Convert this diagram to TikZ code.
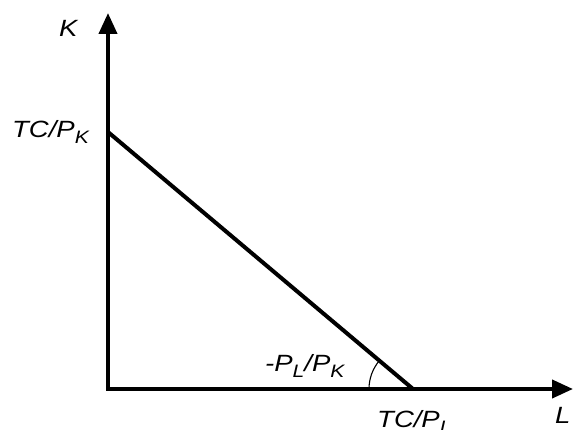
\documentclass[tikz,border=0pt]{standalone}
\usepackage{fontspec}
\setmainfont{Liberation Sans}
\usetikzlibrary{arrows.meta}
\newcommand{\wtxt}[1]{\scalebox{1.17}[1]{#1}}
\newcommand{\subtx}[1]{\raisebox{-6pt}{\fontsize{18}{18}\selectfont #1}}
\begin{document}
\begin{tikzpicture}[x=1pt,y=1pt,
  axis/.style={line width=4pt,-{Triangle[length=21pt,width=18pt]}},
  budget/.style={line width=4pt},
  lab/.style={inner sep=0pt,anchor=base west,font=\fontsize{23.5}{24}\selectfont\itshape}]
\useasboundingbox (0,0) rectangle (573,430);
\coordinate (O) at (108,41);
\coordinate (Ytip) at (108,417);
\coordinate (Xtip) at (573,41);
\coordinate (A) at (108,298);
\coordinate (B) at (413,41);
\draw[axis] ([yshift=-2pt]O) -- (Ytip);
\draw[axis] ([xshift=-2pt]O) -- (Xtip);
\draw[budget] (A) -- (B);
\draw[line width=1.1pt] ([shift={(180:44pt)}]B) arc (180:140:44pt);
\node[lab] (lK) at (59,393) {\wtxt{K}};
\node[lab] (lTCK) at (12,292) {\wtxt{TC/P\subtx{K}}};
\node[lab] (lslope) at (265,58) {\wtxt{-P\subtx{L}/P\subtx{K}}};
\node[lab] (lTCL) at (377,2) {\wtxt{TC/P\subtx{L}}};
\node[lab] (lL) at (555,6) {\wtxt{L}};
\end{tikzpicture}
\end{document}
